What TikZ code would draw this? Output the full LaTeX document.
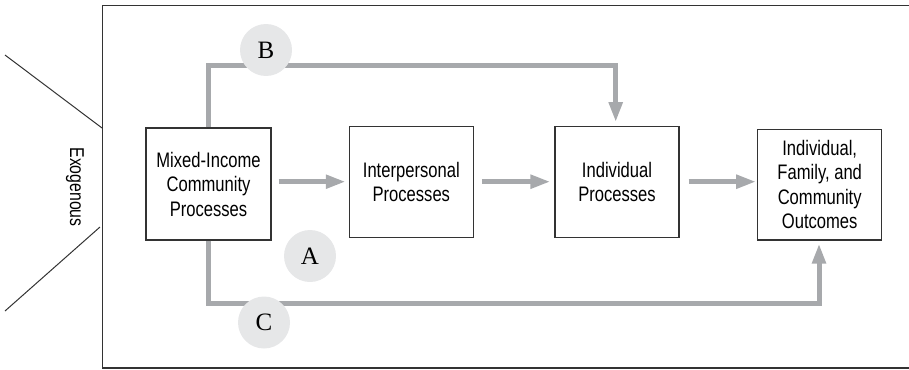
\documentclass[tikz,border=0pt]{standalone}
\usepackage{fontspec}
\setmainfont{Liberation Sans}[FakeStretch=0.79]
\newfontfamily\letterfont{Liberation Serif}
\usetikzlibrary{arrows.meta}
\definecolor{flowgray}{HTML}{A7A9AC}
\definecolor{circgray}{HTML}{E6E7E8}
\definecolor{linegray}{HTML}{333333}
\begin{document}
\begin{tikzpicture}[x=1pt,y=-1pt,
  procbox/.style={draw=linegray,line width=1.1pt,fill=white,align=center,inner sep=0pt,
    font=\fontsize{21}{24.5}\selectfont},
  flow/.style={draw=flowgray,line width=5pt,-{Triangle[length=20pt,width=13pt]}},
  letter/.style={circle,fill=circgray,minimum size=52pt,inner sep=0pt,
    font=\letterfont\fontsize{25}{25}\selectfont},
  thinline/.style={draw=linegray,line width=1pt}]
\useasboundingbox (0,0) rectangle (909,369);
% frame
\draw[thinline,line width=1.2pt] (915,5.5) -- (102.5,5.5) -- (102.5,368) -- (915,368);
% exogenous
\coordinate (e1) at (5,55);
\coordinate (e2) at (102,128);
\coordinate (e3) at (100,227);
\coordinate (e4) at (5,311);
\draw[thinline] (e1) -- (e2);
\draw[thinline] (e3) -- (e4);
\node[rotate=-90,font=\fontsize{20}{22}\selectfont] (exo) at (75,187) {Exogenous};
% boxes
\node[procbox,minimum width=125pt,minimum height=112pt] (m) at (208.5,184) {Mixed-Income\\Community\\Processes};
\node[procbox,minimum width=124pt,minimum height=110.5pt] (ip) at (411.3,182) {Interpersonal\\Processes};
\node[procbox,minimum width=124pt,minimum height=110.5pt] (ind) at (617,182) {Individual\\Processes};
\node[procbox,minimum width=124pt,minimum height=110.5pt] (out) at (819.7,184.7) {Individual,\\Family, and\\Community\\Outcomes};
% main arrows
\draw[flow] ([xshift=7pt]m.east |- 0,181.7) -- ([xshift=-3pt]ip.west |- 0,181.7);
\draw[flow] ([xshift=8pt]ip.east |- 0,181.7) -- ([xshift=-4pt]ind.west |- 0,181.7);
\draw[flow] ([xshift=9pt]ind.east |- 0,181.7) -- ([xshift=-1pt]out.west |- 0,181.7);
% B path
\coordinate (b1) at (208,65.7);
\coordinate (b2) at (615.7,65.7);
\draw[flow] (m.north -| b1) -- (b1) -- (b2) -- ([yshift=4pt]ind.north -| b2);
% C path
\coordinate (c1) at (208,303);
\coordinate (c2) at (819,303);
\draw[flow] (m.south -| c1) -- (c1) -- (c2) -- ([yshift=-3pt]out.south -| c2);
% letters
\node[letter] (B) at (266,50) {B};
\node[letter] (A) at (310,256) {A};
\node[letter] (C) at (264,322.5) {C};
\end{tikzpicture}
\end{document}
